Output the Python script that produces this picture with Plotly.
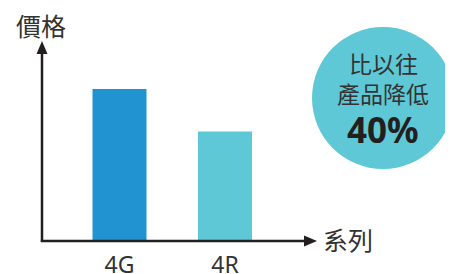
import plotly.graph_objects as go

# Data
categories = ["4G", "4R"]
prices = [100, 72]
bar_colors = ["#2193D1", "#5EC8D6"]
y_title = "價格"
x_title = "系列"
badge_lines = ["比以往", "產品降低", "40%"]

# The page body has an 8px margin, so the figure is drawn 8px in from the window corner.
OFF = 8
WIN_W, WIN_H = 453, 274
W, H = WIN_W - OFF, WIN_H - OFF
BASE_REF = 241          # baseline row in window pixels
BASE = BASE_REF - OFF   # baseline row in figure pixels
PX_PER_UNIT_Y = 1.52
PX_PER_CAT = 105.5
CAT0_REF = 119.5

def px(x):  # window px -> paper x
    return (x - OFF) / W

def py(y):  # window px -> paper y
    return (BASE_REF - y) / BASE

fig = go.Figure()
fig.add_trace(go.Bar(
    x=categories, y=prices,
    marker=dict(color=bar_colors, line=dict(width=0)),
    width=54 / PX_PER_CAT,
    hoverinfo="skip",
))

axis_col = "#231F20"
text_col = "#333333"
shapes = [
    dict(type="line", xref="paper", yref="paper", x0=px(42), x1=px(42), y0=py(242), y1=py(52),
         line=dict(color=axis_col, width=2.5)),
    dict(type="path", xref="paper", yref="paper",
         path=f"M{px(36.5)},{py(54)} L{px(47.5)},{py(54)} L{px(42)},{py(41)} Z",
         fillcolor=axis_col, line=dict(width=0)),
    dict(type="line", xref="paper", yref="paper", x0=px(40.8), x1=px(306), y0=py(241), y1=py(241),
         line=dict(color=axis_col, width=2.5)),
    dict(type="path", xref="paper", yref="paper",
         path=f"M{px(304)},{py(235.5)} L{px(304)},{py(246.5)} L{px(317)},{py(241)} Z",
         fillcolor=axis_col, line=dict(width=0)),
    dict(type="circle", xref="paper", yref="paper", x0=px(312), x1=px(454), y0=py(169), y1=py(27),
         fillcolor="#5EC8D6", line=dict(width=0), layer="below"),
]

cjk = "Noto Sans CJK TC"

def label(text, x, y, size, family=cjk, color=text_col, h=None):
    d = dict(text=text, x=px(x), y=py(y), xref="paper", yref="paper", showarrow=False,
             xanchor="center", yanchor="middle", font=dict(family=family, size=size, color=color))
    if h:
        d["height"] = h
    return d

annotations = [
    label(y_title, 41, 25, 25, h=28),
    label(x_title, 348, 239, 25, h=28),
    label(badge_lines[0], 383, 63, 23, h=26),
    label(badge_lines[1], 383, 93, 23, h=26),
    label("<b>" + badge_lines[2] + "</b>", 383, 129, 35, family="Noto Sans", color=axis_col, h=38),
]

fig.update_layout(
    width=W, height=H,
    margin=dict(l=0, r=0, t=0, b=H - BASE, pad=0, autoexpand=False),
    paper_bgcolor="white", plot_bgcolor="white",
    showlegend=False,
    shapes=shapes, annotations=annotations,
    xaxis=dict(
        range=[(OFF - CAT0_REF) / PX_PER_CAT, (WIN_W - CAT0_REF) / PX_PER_CAT],
        showgrid=False, zeroline=False, showline=False, ticks="",
        tickfont=dict(family="Noto Sans", size=23, color=text_col),
        ticklabelstandoff=8, fixedrange=True, automargin=False,
    ),
    yaxis=dict(
        range=[0, BASE / PX_PER_UNIT_Y], visible=False, fixedrange=True, automargin=False,
    ),
)

fig.write_html("out.html")
